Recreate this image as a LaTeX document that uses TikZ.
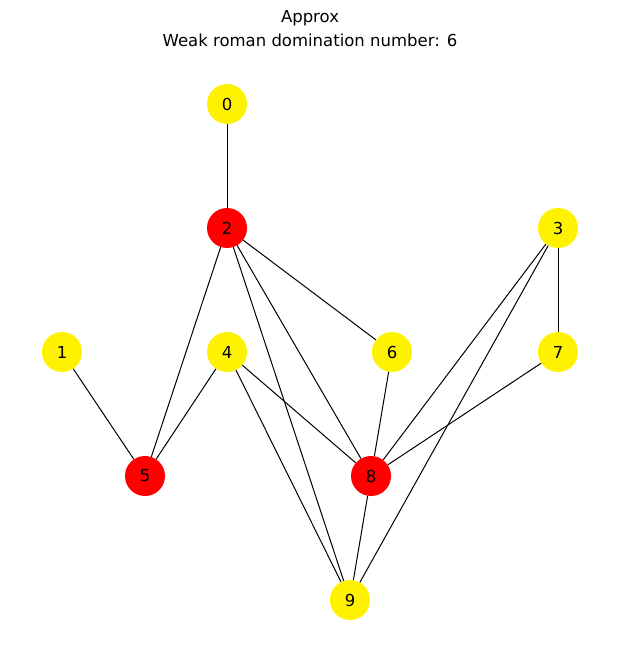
\documentclass[tikz,border=0pt]{standalone}
\usepackage{fontspec}
\setmainfont{DejaVu Sans}
\begin{document}
\begin{tikzpicture}[x=1pt,y=-1pt,
  vtx/.style={circle,minimum size=40pt,inner sep=0pt,draw=none,font=\fontsize{16.5}{19}\selectfont},
  yel/.style={vtx,fill=yellow},
  redv/.style={vtx,fill=red},
  ttl/.style={font=\fontsize{16.5}{19}\selectfont},
  edge/.style={black,line width=1pt}]
\useasboundingbox (0,0) rectangle (619,663);
\node[ttl] (t1) at (310,18) {Approx};
\node[ttl] (t2) at (310,40) {Weak roman domination number: 6};
\node[yel] (n0) at (227,104) {0};
\node[redv] (n2) at (227,228) {2};
\node[yel] (n3) at (558,228) {3};
\node[yel] (n1) at (62,352) {1};
\node[yel] (n4) at (227,352) {4};
\node[yel] (n6) at (392,352) {6};
\node[yel] (n7) at (558,352) {7};
\node[redv] (n5) at (145,476) {5};
\node[redv] (n8) at (371,476) {8};
\node[yel] (n9) at (350,600) {9};
\foreach \a/\b in {n0/n2,n2/n5,n2/n6,n2/n8,n2/n9,n1/n5,n4/n5,n4/n8,n4/n9,n6/n8,n3/n7,n3/n8,n3/n9,n7/n8,n8/n9}
  \draw[edge] (\a) -- (\b);
\end{tikzpicture}
\end{document}
